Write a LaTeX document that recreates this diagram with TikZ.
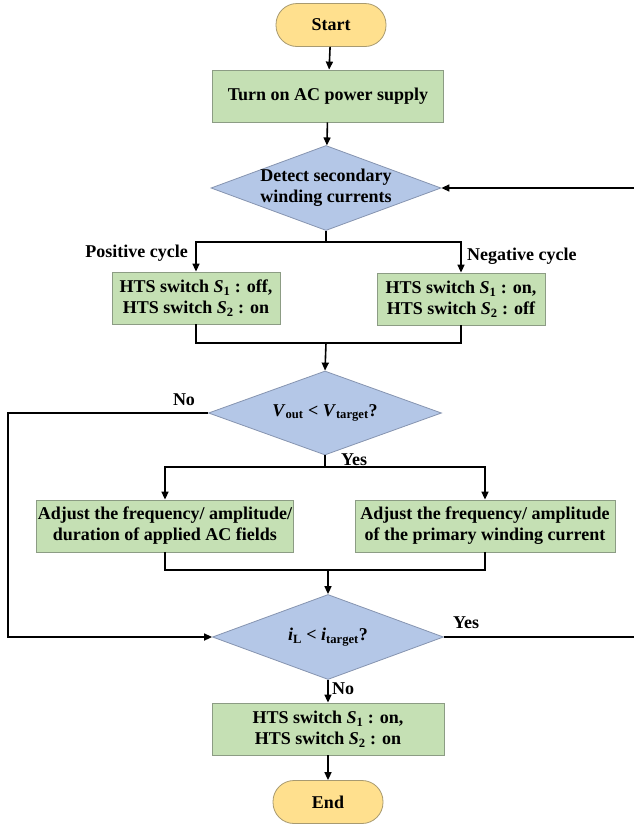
\documentclass[tikz,border=0pt]{standalone}
\usepackage{fontspec}
\setmainfont{Liberation Serif}
\usetikzlibrary{shapes.geometric,arrows.meta}
\definecolor{termfill}{HTML}{FFE08E}
\definecolor{termdraw}{HTML}{A89A70}
\definecolor{procfill}{HTML}{C5E0B4}
\definecolor{procdraw}{HTML}{8C9C84}
\definecolor{decfill}{HTML}{B4C7E7}
\definecolor{decdraw}{HTML}{8694B0}
\tikzset{
  x=1pt,y=-1pt,
  every node/.style={font=\fontsize{18}{21}\selectfont\bfseries},
  term/.style={draw=termdraw,fill=termfill,line width=0.8pt,rounded corners=21pt,minimum width=110pt,minimum height=43pt,inner sep=0pt},
  proc/.style={draw=procdraw,fill=procfill,line width=0.8pt,minimum height=52pt,inner sep=0pt,align=center},
  dec/.style={draw=decdraw,fill=decfill,line width=0.8pt,diamond,inner sep=0pt},
  txt/.style={align=center,inner sep=0pt},
  lbl/.style={inner sep=0pt},
  conn/.style={line width=1.6pt,draw=black},
  arr/.style={conn,-{Triangle[length=8pt,width=7pt]}}
}
\newcommand{\sw}[1]{\textit{S}\textsubscript{#1}}
\begin{document}
\begin{tikzpicture}
\clip (0,0) rectangle (634,828);
\fill[white] (0,0) rectangle (634,828);
% nodes
\node[term] (start) at (331,25) {Start};
\node[proc,minimum width=231pt] (b1) at (328,96) {Turn on AC power supply};
\node[dec,minimum width=230pt,minimum height=85pt] (d1) at (326,188) {};
\node[txt] (d1t) at (d1.center) {Detect secondary\\winding currents};
\node[proc,minimum width=168pt] (p1) at (196,298) {HTS switch \sw{1} : off,\\HTS switch \sw{2} : on};
\node[proc,minimum width=168pt] (p2) at (461,299) {HTS switch \sw{1} : on,\\HTS switch \sw{2} : off};
\node[dec,minimum width=233pt,minimum height=84pt] (d2) at (325,413) {};
\node[txt] (d2t) at (d2.center) {\textit{V}\textsubscript{out} < \textit{V}\textsubscript{target}?};
\node[proc,minimum width=257pt] (a1) at (165,526) {Adjust the frequency/ amplitude/\\duration of applied AC fields};
\node[proc,minimum width=260pt] (a2) at (485,526) {Adjust the frequency/ amplitude\\of the primary winding current};
\node[dec,minimum width=231pt,minimum height=85pt] (d3) at (328,637) {};
\node[txt] (d3t) at (d3.center) {\textit{i}\textsubscript{L} < \textit{i}\textsubscript{target}?};
\node[proc,minimum width=232pt] (f) at (328,729) {HTS switch \sw{1} : on,\\HTS switch \sw{2} : on};
\node[term] (end) at (328,802) {End};
% coordinates
\coordinate (s1) at (326,242);
\coordinate (m1) at (326,343);
\coordinate (s2) at (325,467);
\coordinate (m2) at (328,570);
\coordinate (lx) at (8,0);
\coordinate (rx) at (637,0);
% connectors
\draw[arr] (start) -- (b1);
\draw[arr] (b1) -- (d1);
\draw[conn] (d1.south) -- (s1);
\draw[arr] (s1) -| (p1.north);
\draw[arr] (s1) -| (p2.north);
\draw[conn] (p1.south) |- (m1);
\draw[conn] (p2.south) |- (m1);
\draw[arr] (m1) -- (d2.north);
\draw[conn] (d2.south) -- (s2);
\draw[arr] (s2) -| (a1.north);
\draw[arr] (s2) -| (a2.north);
\draw[conn] (a1.south) |- (m2);
\draw[conn] (a2.south) |- (m2);
\draw[arr] (m2) -- (d3.north);
\draw[arr] (d2.west) -- (d2.west -| lx) -- (d3.west -| lx) -- (d3.west);
\draw[arr] (d3.east) -- (d3.east -| rx) -- (d1.east -| rx) -- (d1.east);
\draw[arr] (d3.south) -- (f.north);
\draw[arr] (f) -- (end);
% labels
\node[lbl,anchor=south east] (lpos) at (188,262) {Positive cycle};
\node[lbl,anchor=south west] (lneg) at (467,265) {Negative cycle};
\node[lbl,anchor=south] (lno1) at (184,406) {No};
\node[lbl,anchor=west] (lyes1) at (341,460) {Yes};
\node[lbl,anchor=west] (lyes2) at (453,623) {Yes};
\node[lbl,anchor=west] (lno2) at (332,689) {No};
\end{tikzpicture}
\end{document}
